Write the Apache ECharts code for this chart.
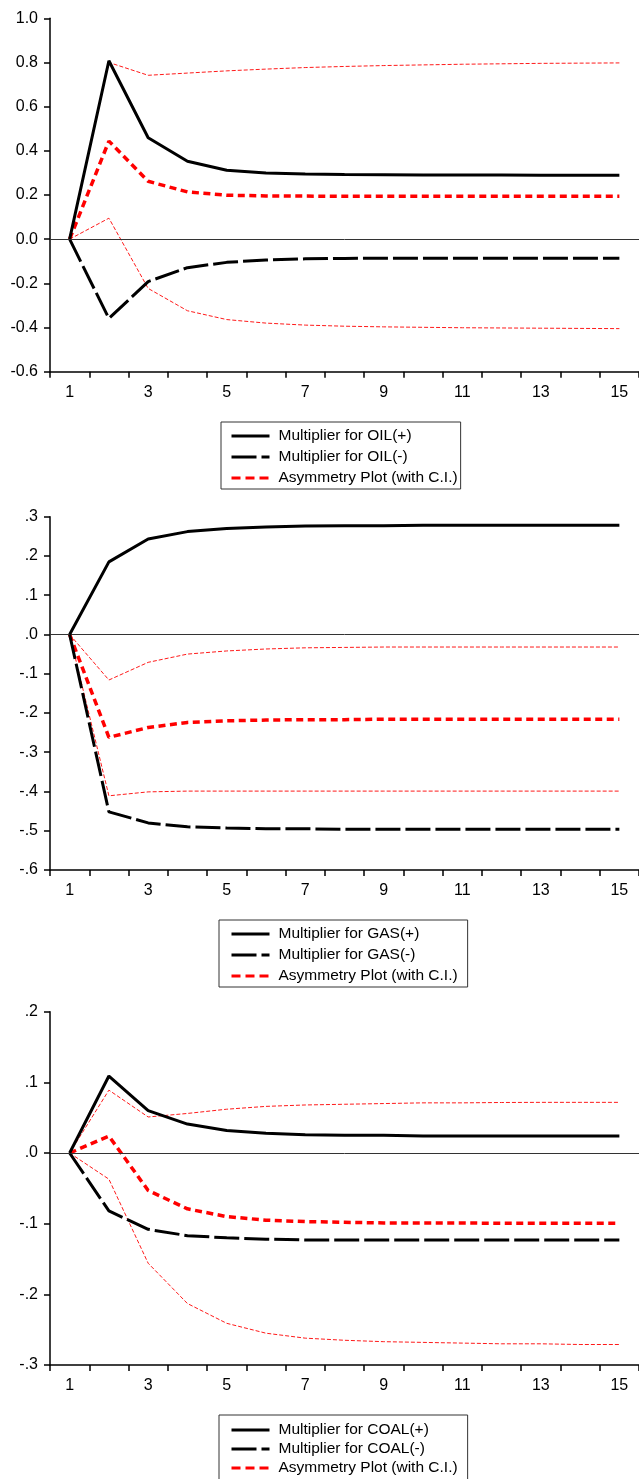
<!DOCTYPE html>
<html>
<head>
<meta charset="utf-8">
<script src="https://cdn.jsdelivr.net/npm/echarts@6/dist/echarts.min.js"></script>
<style>
html,body{margin:0;padding:0;background:#fff;}
#chart{width:639px;height:1479px;}
</style>
</head>
<body>
<div id="chart"></div>
<script>
// ---------- data ----------
const periods = ['1','2','3','4','5','6','7','8','9','10','11','12','13','14','15'];

const oilPos   = [0, 0.808, 0.459, 0.353, 0.312, 0.300, 0.295, 0.293, 0.292, 0.291, 0.290, 0.290, 0.289, 0.289, 0.289];
const oilNeg   = [0, -0.359, -0.192, -0.129, -0.105, -0.094, -0.089, -0.087, -0.086, -0.086, -0.086, -0.086, -0.086, -0.086, -0.086];
const oilAsym  = [0, 0.444, 0.262, 0.214, 0.199, 0.196, 0.195, 0.194, 0.194, 0.194, 0.194, 0.194, 0.194, 0.194, 0.194];
const oilUpper = [0, 0.800, 0.742, 0.752, 0.762, 0.770, 0.777, 0.782, 0.786, 0.789, 0.792, 0.794, 0.796, 0.797, 0.798];
const oilLower = [0, 0.095, -0.223, -0.324, -0.364, -0.380, -0.389, -0.394, -0.397, -0.399, -0.401, -0.402, -0.403, -0.404, -0.405];

const gasPos   = [0, 0.185, 0.243, 0.262, 0.270, 0.274, 0.276, 0.277, 0.277, 0.278, 0.278, 0.278, 0.278, 0.278, 0.278];
const gasNeg   = [0, -0.452, -0.480, -0.490, -0.493, -0.495, -0.495, -0.496, -0.496, -0.496, -0.496, -0.496, -0.496, -0.496, -0.496];
const gasAsym  = [0, -0.262, -0.237, -0.224, -0.220, -0.218, -0.217, -0.217, -0.216, -0.216, -0.216, -0.216, -0.216, -0.216, -0.216];
const gasUpper = [0, -0.116, -0.071, -0.050, -0.042, -0.037, -0.034, -0.033, -0.032, -0.032, -0.032, -0.032, -0.032, -0.032, -0.032];
const gasLower = [0, -0.411, -0.401, -0.399, -0.399, -0.399, -0.399, -0.399, -0.399, -0.399, -0.399, -0.399, -0.399, -0.399, -0.399];

const coalPos   = [0, 0.109, 0.060, 0.041, 0.032, 0.028, 0.026, 0.025, 0.025, 0.024, 0.024, 0.024, 0.024, 0.024, 0.024];
const coalNeg   = [0, -0.082, -0.108, -0.117, -0.120, -0.122, -0.123, -0.123, -0.123, -0.123, -0.123, -0.123, -0.123, -0.123, -0.123];
const coalAsym  = [0, 0.024, -0.053, -0.079, -0.090, -0.095, -0.097, -0.098, -0.099, -0.099, -0.099, -0.0995, -0.0995, -0.0995, -0.0995];
const coalUpper = [0, 0.089, 0.051, 0.056, 0.062, 0.066, 0.068, 0.069, 0.070, 0.071, 0.071, 0.0715, 0.0717, 0.0717, 0.0717];
const coalLower = [0, -0.037, -0.156, -0.213, -0.241, -0.255, -0.262, -0.265, -0.267, -0.268, -0.269, -0.270, -0.270, -0.271, -0.271];

const yTicksOil  = ['-0.6','-0.4','-0.2','0.0','0.2','0.4','0.6','0.8','1.0'];
const yTicksGas  = ['-.6','-.5','-.4','-.3','-.2','-.1','.0','.1','.2','.3'];
const yTicksCoal = ['-.3','-.2','-.1','.0','.1','.2'];

const legendOil  = ['Multiplier for OIL(+)', 'Multiplier for OIL(-)', 'Asymmetry Plot (with C.I.)'];
const legendGas  = ['Multiplier for GAS(+)', 'Multiplier for GAS(-)', 'Asymmetry Plot (with C.I.)'];
const legendCoal = ['Multiplier for COAL(+)', 'Multiplier for COAL(-)', 'Asymmetry Plot (with C.I.)'];

// ---------- chart ----------
const FONT = '"Liberation Sans", Arial, Helvetica, sans-serif';
const panels = [
  {pos: oilPos, neg: oilNeg, asym: oilAsym, up: oilUpper, lo: oilLower, ticks: yTicksOil, min: -0.6, max: 1.0, step: 0.2, names: legendOil, tag: 'OIL',
   grid: {top: 18.3, height: 353.4}, legend: {left: 221, top: 422, pad: [6, 3, 3, 9], gap: 5}},
  {pos: gasPos, neg: gasNeg, asym: gasAsym, up: gasUpper, lo: gasLower, ticks: yTicksGas, min: -0.6, max: 0.3, step: 0.1, names: legendGas, tag: 'GAS',
   grid: {top: 516.7, height: 353.3}, legend: {left: 219, top: 920, pad: [6, 10, 3, 11], gap: 5}},
  {pos: coalPos, neg: coalNeg, asym: coalAsym, up: coalUpper, lo: coalLower, ticks: yTicksCoal, min: -0.3, max: 0.2, step: 0.1, names: legendCoal, tag: 'COAL',
   grid: {top: 1011.7, height: 353.3}, legend: {left: 219, top: 1415, pad: [7, 10, 8, 11], gap: 3}}
];

const grids = [], xAxes = [], yAxes = [], series = [], legends = [];
const BLACK_DASH = [25, 5];
const RED_DASH = [7, 4.5];
const THIN_DASH = [4, 2];

panels.forEach((p, i) => {
  grids.push({left: 50, top: p.grid.top, width: 591, height: p.grid.height});
  xAxes.push({
    type: 'category', gridIndex: i, data: periods, boundaryGap: true,
    axisLine: {show: true, onZero: false, lineStyle: {color: '#000', width: 1.5}},
    axisTick: {show: true, interval: 0, length: 6, inside: false, lineStyle: {color: '#000', width: 1.5}},
    axisLabel: {interval: 1, margin: 13, color: '#000', fontSize: 16, fontFamily: FONT},
    splitLine: {show: false}
  });
  yAxes.push({
    type: 'value', gridIndex: i, min: p.min, max: p.max, interval: p.step,
    axisLine: {show: true, lineStyle: {color: '#000', width: 1.5}},
    axisTick: {show: true, length: 6, lineStyle: {color: '#000', width: 1.5}},
    axisLabel: {margin: 12, color: '#000', fontSize: 16, fontFamily: FONT,
      formatter: (v) => p.ticks[Math.round((v - p.min) / p.step)]},
    splitLine: {show: false}
  });
  const base = {type: 'line', xAxisIndex: i, yAxisIndex: i, symbol: 'none', silent: true, animation: false};
  series.push(Object.assign({}, base, {name: 'Upper C.I. ' + p.tag, data: p.up, z: 2,
    lineStyle: {color: '#ff1a1a', width: 1, type: THIN_DASH}}));
  series.push(Object.assign({}, base, {name: 'Lower C.I. ' + p.tag, data: p.lo, z: 2,
    lineStyle: {color: '#ff1a1a', width: 1, type: THIN_DASH}}));
  series.push(Object.assign({}, base, {name: p.names[2], data: p.asym, z: 3,
    lineStyle: {color: '#ff0000', width: 3.5, type: RED_DASH}}));
  series.push(Object.assign({}, base, {name: p.names[1], data: p.neg, z: 4,
    lineStyle: {color: '#000', width: 3, type: BLACK_DASH}}));
  series.push(Object.assign({}, base, {name: p.names[0], data: p.pos, z: 5,
    lineStyle: {color: '#000', width: 3, type: 'solid'},
    markLine: {silent: true, symbol: 'none', label: {show: false}, animation: false,
      lineStyle: {color: '#333', width: 1, type: 'solid'}, emphasis: {disabled: true},
      data: [{yAxis: 0}]}}));
  legends.push({
    orient: 'vertical', left: p.legend.left, top: p.legend.top, height: 200,
    padding: p.legend.pad, itemGap: p.legend.gap, itemWidth: 38, itemHeight: 14,
    borderColor: '#333', borderWidth: 1, selectedMode: false,
    itemStyle: {opacity: 0},
    textStyle: {fontSize: 15.5, fontFamily: FONT, color: '#000', padding: [0, 0, 0, 4], lineHeight: 16},
    data: [
      {name: p.names[0], lineStyle: {color: '#000', width: 3, type: 'solid'}},
      {name: p.names[1], lineStyle: {color: '#000', width: 3, type: BLACK_DASH}},
      {name: p.names[2], lineStyle: {color: '#ff0000', width: 3, type: [9, 5]}}
    ]
  });
});

const chart = echarts.init(document.getElementById('chart'), null, {renderer: 'canvas'});
chart.setOption({
  animation: false,
  backgroundColor: '#fff',
  grid: grids, xAxis: xAxes, yAxis: yAxes, legend: legends, series: series
});
</script>
</body>
</html>
